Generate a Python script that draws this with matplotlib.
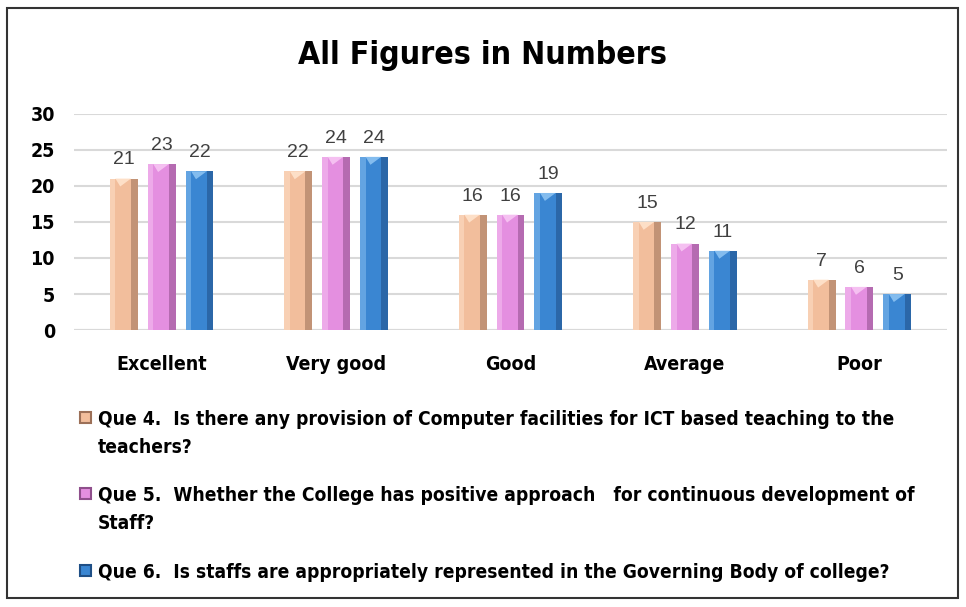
import matplotlib.pyplot as plt
import numpy as np
from matplotlib.patches import Rectangle

categories = ["Excellent", "Very good", "Good", "Average", "Poor"]
que4 = [21, 22, 16, 15, 7]
que5 = [23, 24, 16, 12, 6]
que6 = [22, 24, 19, 11, 5]
labels = [
    "Que 4.  Is there any provision of Computer facilities for ICT based teaching to the\nteachers?",
    "Que 5.  Whether the College has positive approach   for continuous development of\nStaff?",
    "Que 6.  Is staffs are appropriately represented in the Governing Body of college?",
]
colors = ["#F2BE9C", "#E48FE0", "#3A86D2"]
dark = ["#9C7058", "#8F4F8C", "#1F4F86"]
light = ["#FFE3CC", "#F7C6F3", "#8CC3F2"]

cond = dict(family="DejaVu Sans", stretch="condensed", weight="bold")

fig = plt.figure(figsize=(9.66, 6.07), dpi=100)
ax = fig.add_axes([0.077, 0.456, 0.903, 0.357])

x = np.arange(len(categories))
w = 0.16
step = 0.217
series = [que4, que5, que6]
for i, vals in enumerate(series):
    xs = x + (i - 1) * step
    ax.bar(xs, vals, w, color=colors[i], zorder=2, label=labels[i])
    # bevel: dark right edge, light left edge, light cap at top
    ax.bar(xs + w * 0.38, vals, w * 0.24, color=dark[i], alpha=0.55, zorder=3, linewidth=0)
    ax.bar(xs - w * 0.40, vals, w * 0.2, color=light[i], alpha=0.5, zorder=3, linewidth=0)
    for xi, v in zip(xs, vals):
        ax.fill([xi - w * 0.3, xi + w * 0.26, xi - 0.02], [v, v, v - 1.1],
                color=light[i], alpha=0.9, zorder=4, linewidth=0)
        ax.text(xi, v + 1.4, str(v), ha="center", va="bottom", fontsize=14,
                color="#404040", family=["Liberation Sans", "DejaVu Sans"])

ax.set_ylim(0, 30)
ax.set_xlim(-0.5, len(categories) - 0.5)
ax.set_yticks(range(0, 31, 5))
ax.set_xticks(x)
ax.set_xticklabels(categories, fontsize=14, **cond)
for t in ax.get_yticklabels():
    t.set_fontsize(14)
    t.set_fontweight("bold")
    t.set_family("DejaVu Sans")
    t.set_fontstretch("condensed")
ax.yaxis.grid(True, color="#D9D9D9", linewidth=1.5, zorder=0)
ax.tick_params(length=0)
ax.tick_params(axis="y", pad=14)
ax.tick_params(axis="x", pad=18)
for s in ax.spines.values():
    s.set_visible(False)
ax.axhline(0, color="#D9D9D9", linewidth=1.5, zorder=1)

fig.text(0.5, 0.908, "All Figures in Numbers", ha="center", va="center",
         fontsize=23, **cond)

# legend drawn by hand so the marker sits on the first line of each entry
H = 607.0
entry_px = [418, 494, 571]
for lab, c, d, ypx in zip(labels, colors, dark, entry_px):
    yc = 1 - ypx / H
    fig.add_artist(Rectangle((80 / 966, yc - 5 / H), 11 / 966, 11 / H,
                             transform=fig.transFigure, facecolor=c,
                             edgecolor=d, linewidth=1.5))
    fig.text(98 / 966, yc + 8 / H, lab, ha="left", va="top", fontsize=13.8,
             linespacing=1.62, **cond)

fig.add_artist(Rectangle((0.007, 0.015), 0.985, 0.972, transform=fig.transFigure,
                         fill=False, edgecolor="#333333", linewidth=1.5))

fig.savefig("out.png", dpi=100)
